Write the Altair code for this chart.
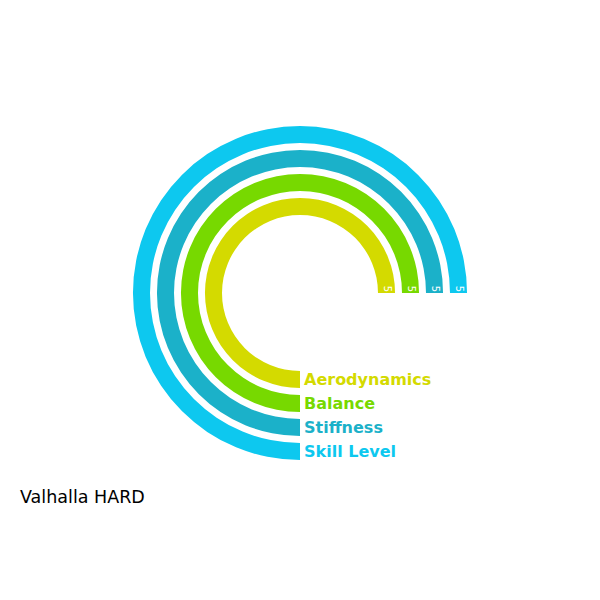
import math
import altair as alt
import pandas as pd

categories = ["Aerodynamics", "Balance", "Stiffness", "Skill Level"]
values = [5, 5, 5, 5]
max_value = 5
colors = ["#d4da00", "#77d900", "#1bb1c9", "#0dc8ef"]
title_text = "Valhalla HARD"

df = pd.DataFrame({"category": categories, "value": values, "rank": list(range(len(categories)))})

CX, CY = 292, 285

theta_scale = alt.Scale(domain=[0, max_value], range=[math.pi, 2.5 * math.pi])
radius_scale = alt.Scale(domain=[0, 3], range=[78, 150], zero=False)
color_scale = alt.Scale(domain=categories, range=colors)

base = alt.Chart(df).transform_calculate(
    zero="0", r_out="datum.rank + 0.71", r_mid="datum.rank + 0.355"
)

arcs = base.mark_arc().encode(
    x=alt.value(CX),
    y=alt.value(CY),
    theta=alt.Theta("zero:Q", scale=theta_scale),
    theta2="value:Q",
    radius=alt.Radius("rank:Q", scale=radius_scale),
    radius2="r_out:Q",
    color=alt.Color("category:N", scale=color_scale, legend=None),
)

labels = base.mark_text(
    align="left", baseline="middle", dx=4, fontSize=16, font="DejaVu Sans", fontWeight="bold"
).encode(
    x=alt.value(CX),
    y=alt.value(CY),
    theta=alt.Theta("zero:Q", scale=theta_scale),
    radius=alt.Radius("r_mid:Q", scale=radius_scale),
    text="category:N",
    color=alt.Color("category:N", scale=color_scale, legend=None),
)

value_labels = base.mark_text(
    align="right", baseline="middle", angle=90, dx=-1, fontSize=10, font="DejaVu Sans", color="white"
).encode(
    x=alt.value(CX),
    y=alt.value(CY),
    theta=alt.Theta("value:Q", scale=theta_scale),
    radius=alt.Radius("r_mid:Q", scale=radius_scale),
    text="value:Q",
)

title = alt.Chart(pd.DataFrame({"t": [title_text]})).mark_text(
    align="left", baseline="alphabetic", fontSize=17.5, font="DejaVu Sans", color="black"
).encode(x=alt.value(12), y=alt.value(495), text="t:N")

chart = alt.layer(arcs, labels, value_labels, title).properties(
    width=584, height=584, autosize=alt.AutoSizeParams(type="none"), padding=0
).configure_view(stroke=None)

chart.save("out.html", embed_options={"renderer": "svg", "actions": False})
